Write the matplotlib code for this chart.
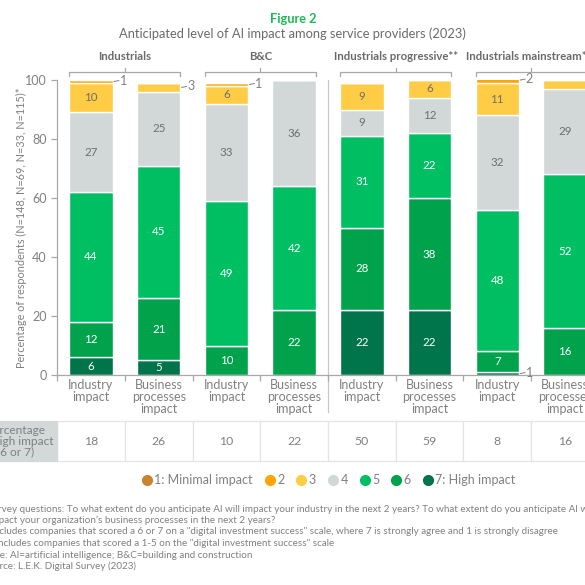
import matplotlib
matplotlib.use("Agg")
import matplotlib.pyplot as plt
from matplotlib.patches import Rectangle
from matplotlib.lines import Line2D
import matplotlib.transforms as mtransforms

plt.rcParams['font.family'] = ['Lato', 'DejaVu Sans']

# ---------------- data ----------------
categories = ["Industry\nimpact", "Business\nprocesses\nimpact"] * 4
groups = ["Industrials", "B&C", "Industrials progressive**", "Industrials mainstream***"]
levels = ["1: Minimal impact", "2", "3", "4", "5", "6", "7: High impact"]
v1 = [0, 0, 0, 0, 0, 0, 0, 0]
v2 = [1, 0, 1, 0, 0, 0, 2, 0]
v3 = [10, 3, 6, 0, 9, 6, 11, 3]
v4 = [27, 25, 33, 36, 9, 12, 32, 29]
v5 = [44, 45, 49, 42, 31, 22, 48, 52]
v6 = [12, 21, 10, 22, 28, 38, 7, 16]
v7 = [6, 5, 0, 0, 22, 22, 1, 0]
high_share = [18, 26, 10, 22, 50, 59, 8, 16]

colors = {"1": "#C98430", "2": "#FFA500", "3": "#FFCC45", "4": "#D2D7D7",
          "5": "#00BF63", "6": "#00A24C", "7": "#00744A"}
GRAY = "#808080"
DARK = "#6E6E6E"

W = H = 585
fig = plt.figure(figsize=(5.85, 5.85), dpi=100)
fig.patch.set_facecolor("white")

def fx(px):
    return px / W
def fy(py):
    return 1 - py / H

# axes: x=-0.5 at 57.2px, spacing 67.7px per bar; y 0 at 375px, 100 at 80px
ax = fig.add_axes([fx(57.2), fy(375), 8 * 67.7 / W, 295 / H])
ax.set_xlim(-0.5, 7.5)
ax.set_ylim(0, 100)

x = list(range(len(categories)))
bw = 0.64
stack = [("7", v7), ("6", v6), ("5", v5), ("4", v4), ("3", v3), ("2", v2), ("1", v1)]
bottom = [0] * len(x)
for key, vals in stack:
    ax.bar(x, vals, bw, bottom=bottom, color=colors[key], edgecolor="white",
           linewidth=1.0, zorder=2)
    for i, v in enumerate(vals):
        if v <= 0:
            continue
        mid = bottom[i] + v / 2
        if v >= 4:
            tc = "white" if key in ("5", "6", "7") else DARK
            ax.text(i, mid, str(v), ha="center", va="center", fontsize=8.3,
                    color=tc, zorder=3)
        else:
            ax.plot([i + bw / 2 + 0.02, i + bw / 2 + 0.09], [mid, mid + 0.3],
                    color=GRAY, lw=0.7, clip_on=False, zorder=3)
            ax.text(i + bw / 2 + 0.10, mid + 0.3, str(v), ha="left", va="center",
                    fontsize=9, color=GRAY, clip_on=False)
    bottom = [b + v for b, v in zip(bottom, vals)]

# spines & ticks
for s in ("top", "right"):
    ax.spines[s].set_visible(False)
for s in ("left", "bottom"):
    ax.spines[s].set_color("#A8A8A8")
    ax.spines[s].set_linewidth(0.9)
ax.set_yticks([0, 20, 40, 60, 80, 100])
ax.tick_params(axis="y", colors="#A8A8A8", labelcolor=GRAY, labelsize=9, length=4, width=0.9)
ax.set_xticks(x)
ax.set_xticklabels(categories, fontsize=9, color=GRAY, linespacing=1.0)
ax.tick_params(axis="x", length=0, pad=3)
ax.set_xticks([i + 0.5 for i in range(-1, 8)], minor=True)
ax.tick_params(axis="x", which="minor", length=4, width=0.9, color="#A8A8A8")
ax.set_ylabel("Percentage of respondents (N=148, N=69, N=33, N=115)*", fontsize=7.8,
              color=GRAY)
ax.yaxis.set_label_coords((27 - 57.2) / (8 * 67.7), 0.5)

trans = mtransforms.blended_transform_factory(ax.transData, ax.transAxes)

# separator
ax.plot([3.5, 3.5], [1.0, -0.125], transform=trans, color="#C8C8C8", lw=0.9,
        clip_on=False, zorder=1)

# group brackets
for g, name in enumerate(groups):
    l = 2 * g - bw / 2
    r = 2 * g + 1 + bw / 2
    c = 2 * g + 0.5
    yb = 1.027
    ax.plot([l, l, r, r], [yb - 0.013, yb, yb, yb - 0.013], transform=trans,
            color="#A8A8A8", lw=0.9, clip_on=False)
    ax.plot([c, c], [yb, yb + 0.013], transform=trans, color="#A8A8A8", lw=0.9,
            clip_on=False)
    ax.text(c, 1.078, name, transform=trans, ha="center", va="center",
            fontsize=8.2, fontweight="bold", color="#6A6A6A", clip_on=False)

# table row
t_top = -(421 - 375) / 295
t_bot = -(461 - 375) / 295
t_mid = (t_top + t_bot) / 2
for i, v in enumerate(high_share):
    ax.add_patch(Rectangle((i - 0.5, t_bot), 1, t_top - t_bot, transform=trans,
                           facecolor="white", edgecolor="#E4E4E4", lw=0.9, clip_on=False))
    ax.text(i, t_mid, str(v), transform=trans, ha="center", va="center",
            fontsize=8.8, color=GRAY, clip_on=False)
ax.add_patch(Rectangle((-1.9, t_bot), 1.4, t_top - t_bot, transform=trans,
                       facecolor="#D3D8D8", edgecolor="#D3D8D8", lw=0.9, clip_on=False))
ax.text(-1.11, t_mid, "Percentage\nof high impact\n(6 or 7)", transform=trans,
        ha="center", va="center", fontsize=8.6, color=GRAY, linespacing=1.0,
        clip_on=False)

# titles
fig.text(fx(293), fy(19), "Figure 2", ha="center", va="center", fontsize=9.2,
         fontweight="bold", color="#1DB954")
fig.text(fx(292), fy(34), "Anticipated level of AI impact among service providers (2023)",
         ha="center", va="center", fontsize=9.3, color="#6A6A6A")

# legend
handles = [Line2D([], [], marker="o", linestyle="none", markersize=7,
                  markerfacecolor=colors[k], markeredgecolor=colors[k])
           for k in ["1", "2", "3", "4", "5", "6", "7"]]
fig.legend(handles, levels, loc="center", bbox_to_anchor=(fx(328), fy(480)), ncol=7,
           frameon=False, fontsize=9, labelcolor=GRAY, handletextpad=0.1,
           columnspacing=0.85, handlelength=1.0)

# footnotes
notes = [
    "*Survey questions: To what extent do you anticipate AI will impact your industry in the next 2 years? To what extent do you anticipate AI will",
    "  impact your organization\u2019s business processes in the next 2 years?",
    "**Includes companies that scored a 6 or 7 on a \"digital investment success\" scale, where 7 is strongly agree and 1 is strongly disagree",
    "***Includes companies that scored a 1-5 on the \"digital investment success\" scale",
    "Note: AI=artificial intelligence; B&C=building and construction",
    "Source: L.E.K. Digital Survey (2023)",
]
for k, line in enumerate(notes):
    fig.text(fx(-17), fy(509 + 11.5 * k), line, ha="left", va="center",
             fontsize=7.1, color=GRAY)

fig.savefig("out.png", dpi=100)
